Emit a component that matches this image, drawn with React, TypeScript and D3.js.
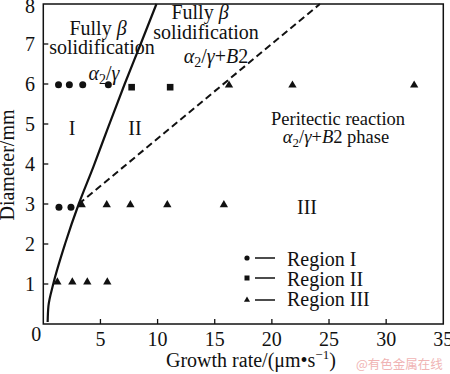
import React from "react";
import * as d3 from "d3";

const xTicks = [0, 5, 10, 15, 20, 25, 30, 35];
const yTicks = [0, 1, 2, 3, 4, 5, 6, 7, 8];

const regionI: [number, number][] = [
  [1.33, 5.98], [2.28, 5.98], [3.45, 5.98], [5.69, 5.98],
  [1.37, 2.92], [2.42, 2.92],
];
const regionII: [number, number][] = [
  [7.73, 5.92], [11.1, 5.92],
];
const regionIII: [number, number][] = [
  [16.25, 5.97], [21.8, 5.97], [32.45, 5.97],
  [3.36, 2.98], [5.55, 2.98], [7.62, 2.98], [10.85, 2.98], [15.8, 2.98],
  [1.23, 1.05], [2.54, 1.05], [3.85, 1.05], [5.6, 1.05],
];
const solidBoundary: [number, number][] = [
  [0.38, 0.05], [0.45, 0.45], [0.87, 1.0], [1.9, 2.0], [3.1, 3.0],
  [4.38, 3.93], [5.69, 4.93], [7.12, 6.0], [8.52, 7.0], [9.9, 8.0],
];
const dashedBoundary: [number, number][] = [
  [3.1, 3.0], [24.2, 8.0],
];
const legendLabels = ["Region I", "Region II", "Region III"];

const W = 450, H = 374;
const x = d3.scaleLinear().domain([0, 35]).range([43.3, 443.3]);
const y = d3.scaleLinear().domain([0, 8]).range([324, 4]);
const FONT = '"Liberation Serif", serif';
const serif = { fontFamily: FONT };

const line = d3.line<[number, number]>().x(d => x(d[0])).y(d => y(d[1]));
const curve = d3.line<[number, number]>().x(d => x(d[0])).y(d => y(d[1])).curve(d3.curveMonotoneY);

const tri = d3.symbol().type(d3.symbolTriangle).size(30)();
const triSmall = d3.symbol().type(d3.symbolTriangle).size(16)();

function Phase({ plus }: { plus?: boolean }) {
  return (
    <>
      <tspan fontStyle="italic">α</tspan>
      <tspan fontSize="0.7em" dy="4">2</tspan>
      <tspan dy="-4">/</tspan>
      <tspan fontStyle="italic">γ</tspan>
      {plus ? (
        <>
          <tspan>+</tspan>
          <tspan fontStyle="italic">B</tspan>
          <tspan>2</tspan>
        </>
      ) : null}
    </>
  );
}

export default function App() {
  return (
    <svg width={W} height={H} style={{ display: "block", position: "absolute", left: 0, top: 0, fontFamily: FONT }}>
      <rect width={W} height={H} fill="#fff" />
      {/* frame */}
      <rect x={x(0)} y={y(8)} width={x(35) - x(0)} height={y(0) - y(8)} fill="none" stroke="#111" strokeWidth={1.5} />
      {/* x ticks */}
      {xTicks.map(t => (
        <g key={"xt" + t}>
          {t > 0 && t < 35 && <line x1={x(t)} x2={x(t)} y1={y(0)} y2={y(0) - 5} stroke="#111" strokeWidth={1.3} />}
          <text style={serif} x={t === 0 ? x(0) - 7 : x(t)} y={t === 0 ? 341 : 346} fontSize={20} textAnchor="middle" fill="#111">{t}</text>
        </g>
      ))}
      {/* y ticks */}
      {yTicks.map(t => (
        <g key={"yt" + t}>
          {t > 0 && t < 8 && <line x1={x(0)} x2={x(0) + 5} y1={y(t)} y2={y(t)} stroke="#111" strokeWidth={1.3} />}
          {t > 0 && <text style={serif} x={35} y={t === 8 ? y(t) + 9 : y(t) + 6.5} fontSize={20} textAnchor="end" fill="#111">{t}</text>}
        </g>
      ))}
      {/* axis titles */}
      <text style={serif} transform="translate(14,165) rotate(-90)" fontSize={20} textAnchor="middle" fill="#111">Diameter/mm</text>
      <text style={serif} x={166} y={367} fontSize={20} fill="#111">
        Growth rate/(μm•s<tspan fontSize="0.65em" dy="-8">−1</tspan><tspan dy="8">)</tspan>
      </text>
      <text x={356} y={369} fontSize={12.5} fill="#f0b4b4" style={{ fontFamily: '"Noto Sans CJK SC", sans-serif' }}>@有色金属在线</text>

      {/* boundaries */}
      <path d={curve(solidBoundary) || ""} fill="none" stroke="#111" strokeWidth={2.2} />
      <path d={line(dashedBoundary) || ""} fill="none" stroke="#111" strokeWidth={2} strokeDasharray="7,4" />

      {/* points */}
      {regionI.map((d, i) => <circle key={"c" + i} cx={x(d[0])} cy={y(d[1])} r={3.5} fill="#111" />)}
      {regionII.map((d, i) => <rect key={"s" + i} x={x(d[0]) - 3.3} y={y(d[1]) - 3.3} width={6.6} height={6.6} fill="#111" />)}
      {regionIII.map((d, i) => <path key={"t" + i} d={tri || ""} transform={`translate(${x(d[0])},${y(d[1])})`} fill="#111" />)}

      {/* annotations */}
      <g style={serif} fontSize={20} fill="#111" textAnchor="middle">
        <text style={serif} x={98} y={35}>Fully <tspan fontStyle="italic">β</tspan></text>
        <text style={serif} x={102} y={54}>solidification</text>
        <text style={serif} x={104} y={80}><Phase /></text>
        <text style={serif} x={200} y={19}>Fully <tspan fontStyle="italic">β</tspan></text>
        <text style={serif} x={206} y={39}>solidification</text>
        <text style={serif} x={216} y={63}><Phase plus /></text>
        <text style={serif} x={72} y={135}>I</text>
        <text style={serif} x={135} y={135}>II</text>
        <text style={serif} x={307} y={214}>III</text>
      </g>
      <g style={serif} fontSize={18.5} fill="#111" textAnchor="middle">
        <text style={serif} x={338} y={125}>Peritectic reaction</text>
        <text style={serif} x={336} y={143}><Phase plus /> phase</text>
      </g>

      {/* legend */}
      {legendLabels.map((lab, i) => {
        const my = [258, 278, 300][i];
        const ty = [266, 286, 306][i];
        return (
          <g key={lab}>
            {i === 0 && <circle cx={247} cy={my} r={2.6} fill="#111" />}
            {i === 1 && <rect x={244.5} y={my - 2.5} width={5} height={5} fill="#111" />}
            {i === 2 && <path d={triSmall || ""} transform={`translate(247,${my})`} fill="#111" />}
            <line x1={255} x2={275} y1={my} y2={my} stroke="#111" strokeWidth={1.5} />
            <text style={serif} x={287} y={ty} fontSize={20} fill="#111">{lab}</text>
          </g>
        );
      })}
    </svg>
  );
}
